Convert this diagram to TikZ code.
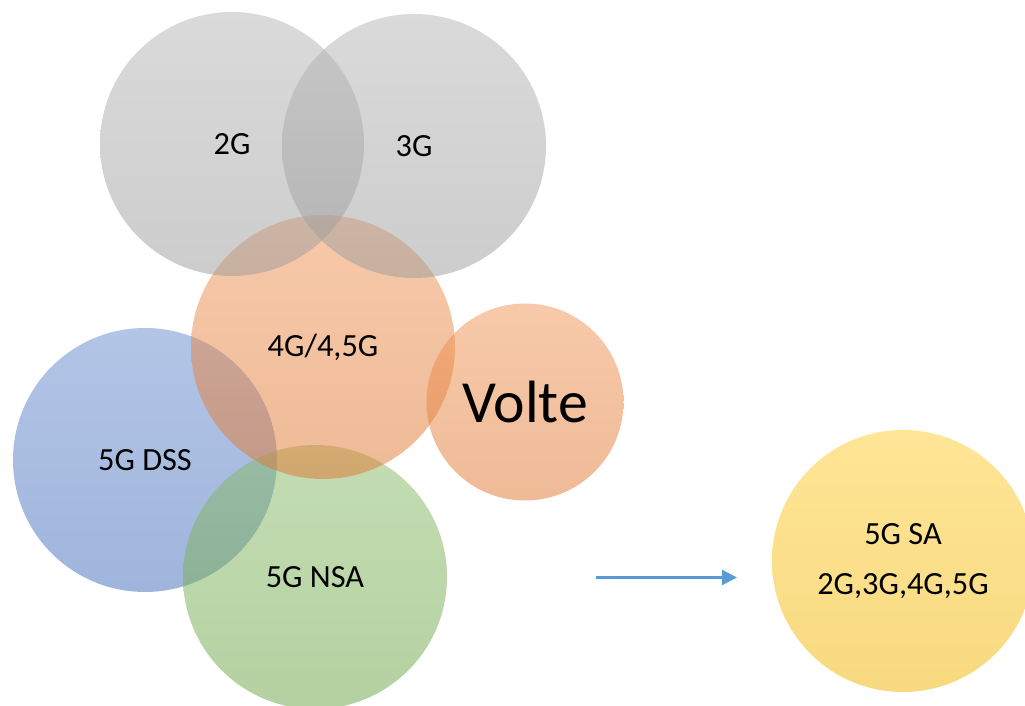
\documentclass[tikz,border=0pt]{standalone}
\usepackage{fontspec}
\setmainfont{Carlito}
\usetikzlibrary{arrows.meta}
\definecolor{accgray}{HTML}{A5A5A5}
\definecolor{accorange}{HTML}{ED7D31}
\definecolor{accblue}{HTML}{4472C4}
\definecolor{accgreen}{HTML}{70AD47}
\definecolor{accyellow}{HTML}{FFC000}
\definecolor{arrowblue}{HTML}{5B9BD5}
\tikzset{
	bubble/.style 2 args={circle, inner sep=0pt, minimum size=#1,
		top color=#2!82!white, bottom color=#2!94!black,
		fill opacity=0.5, text opacity=1, align=center,
		font=\fontsize{18.4}{28.5}\selectfont},
	move/.style={draw=arrowblue, line width=1.2pt, -{Triangle[length=0.3cm, width=0.3cm]}}
}

\begin{document}
\begin{tikzpicture}
		%%%%% START %%%%%
		\useasboundingbox (0, 0) rectangle (20.5, 14.12);
		
		\node[bubble={5.28cm}{accblue}] (dss) at (2.9, 4.92) {5G DSS};
		\node[bubble={5.28cm}{accgreen}] (nsa) at (6.3, 2.58) {5G NSA};
		\node[bubble={5.28cm}{accorange}] (four) at (6.46, 7.18) {4G/4,5G};
		\node[bubble={3.94cm}{accorange}, font=\fontsize{34}{40}\selectfont] (volte) at (10.5, 6.08) {Volte};
		
		\node[bubble={5.28cm}{accgray}] (two) at (4.64, 11.24) {2G};
		\node[bubble={5.28cm}{accgray}] (three) at (8.28, 11.2) {3G};
		
		\coordinate (from) at (11.92, 2.57);
		\coordinate (to) at (14.74, 2.57);
		\draw[move] (from) -- (to);
		
		\node[bubble={5.24cm}{accyellow}] (sa) at (18.06, 2.9) {5G SA\\2G,3G,4G,5G};
		%%%%% END %%%%%
	\end{tikzpicture}
\end{document}
